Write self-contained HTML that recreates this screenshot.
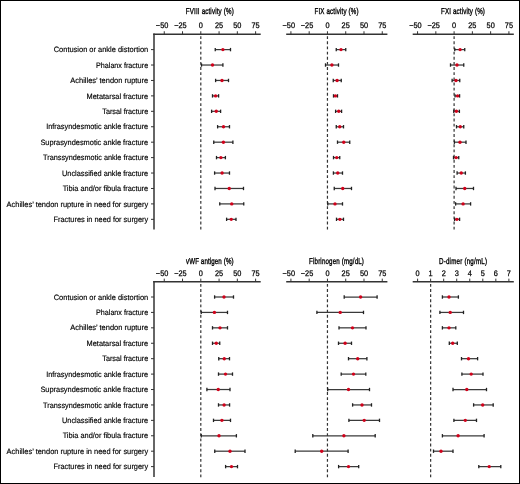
<!DOCTYPE html>
<html><head><meta charset="utf-8"><style>
html,body{margin:0;padding:0;background:#fff;}
body{width:520px;height:484px;overflow:hidden;}
svg{display:block;will-change:transform;}
text{font-family:"Liberation Sans",sans-serif;fill:#000;text-rendering:geometricPrecision;}
</style></head><body>
<svg width="520" height="484" viewBox="0 0 520 484">
<rect x="0.5" y="0.5" width="519" height="483" fill="#fff" stroke="#000" stroke-width="1"/>
<text x="148.20" y="52.25" font-size="7.75" text-anchor="end" stroke="#000" stroke-width="0.15" textLength="94.47" lengthAdjust="spacingAndGlyphs">Contusion or ankle distortion</text>
<line x1="151.00" y1="49.60" x2="154.00" y2="49.60" stroke="#333" stroke-width="1.0"/>
<text x="148.20" y="67.68" font-size="7.75" text-anchor="end" stroke="#000" stroke-width="0.15" textLength="52.15" lengthAdjust="spacingAndGlyphs">Phalanx fracture</text>
<line x1="151.00" y1="65.03" x2="154.00" y2="65.03" stroke="#333" stroke-width="1.0"/>
<text x="148.20" y="83.11" font-size="7.75" text-anchor="end" stroke="#000" stroke-width="0.15" textLength="77.88" lengthAdjust="spacingAndGlyphs">Achilles’ tendon rupture</text>
<line x1="151.00" y1="80.46" x2="154.00" y2="80.46" stroke="#333" stroke-width="1.0"/>
<text x="148.20" y="98.54" font-size="7.75" text-anchor="end" stroke="#000" stroke-width="0.15" textLength="61.61" lengthAdjust="spacingAndGlyphs">Metatarsal fracture</text>
<line x1="151.00" y1="95.89" x2="154.00" y2="95.89" stroke="#333" stroke-width="1.0"/>
<text x="148.20" y="113.97" font-size="7.75" text-anchor="end" stroke="#000" stroke-width="0.15" textLength="45.9" lengthAdjust="spacingAndGlyphs">Tarsal fracture</text>
<line x1="151.00" y1="111.32" x2="154.00" y2="111.32" stroke="#333" stroke-width="1.0"/>
<text x="148.20" y="129.40" font-size="7.75" text-anchor="end" stroke="#000" stroke-width="0.15" textLength="102.02" lengthAdjust="spacingAndGlyphs">Infrasyndesmotic ankle fracture</text>
<line x1="151.00" y1="126.75" x2="154.00" y2="126.75" stroke="#333" stroke-width="1.0"/>
<text x="148.20" y="144.83" font-size="7.75" text-anchor="end" stroke="#000" stroke-width="0.15" textLength="107.79" lengthAdjust="spacingAndGlyphs">Suprasyndesmotic ankle fracture</text>
<line x1="151.00" y1="142.18" x2="154.00" y2="142.18" stroke="#333" stroke-width="1.0"/>
<text x="148.20" y="160.26" font-size="7.75" text-anchor="end" stroke="#000" stroke-width="0.15" textLength="105.18" lengthAdjust="spacingAndGlyphs">Transsyndesmotic ankle fracture</text>
<line x1="151.00" y1="157.61" x2="154.00" y2="157.61" stroke="#333" stroke-width="1.0"/>
<text x="148.20" y="175.69" font-size="7.75" text-anchor="end" stroke="#000" stroke-width="0.15" textLength="86.17" lengthAdjust="spacingAndGlyphs">Unclassified ankle fracture</text>
<line x1="151.00" y1="173.04" x2="154.00" y2="173.04" stroke="#333" stroke-width="1.0"/>
<text x="148.20" y="191.12" font-size="7.75" text-anchor="end" stroke="#000" stroke-width="0.15" textLength="85.57" lengthAdjust="spacingAndGlyphs">Tibia and/or fibula fracture</text>
<line x1="151.00" y1="188.47" x2="154.00" y2="188.47" stroke="#333" stroke-width="1.0"/>
<text x="148.20" y="206.55" font-size="7.75" text-anchor="end" stroke="#000" stroke-width="0.15" textLength="141.62" lengthAdjust="spacingAndGlyphs">Achilles’ tendon rupture in need for surgery</text>
<line x1="151.00" y1="203.90" x2="154.00" y2="203.90" stroke="#333" stroke-width="1.0"/>
<text x="148.20" y="221.98" font-size="7.75" text-anchor="end" stroke="#000" stroke-width="0.15" textLength="94.65" lengthAdjust="spacingAndGlyphs">Fractures in need for surgery</text>
<line x1="151.00" y1="219.33" x2="154.00" y2="219.33" stroke="#333" stroke-width="1.0"/>
<line x1="154.00" y1="33.50" x2="154.00" y2="229.50" stroke="#333" stroke-width="1.5"/>
<line x1="153.25" y1="34.25" x2="260.70" y2="34.25" stroke="#333" stroke-width="1.5"/>
<line x1="164.26" y1="31.25" x2="164.26" y2="34.25" stroke="#333" stroke-width="1.0"/>
<text transform="translate(168.35,27.70) scale(0.92,1)" font-size="8.0" text-anchor="end" stroke="#000" stroke-width="0.25">−50</text>
<line x1="182.53" y1="31.25" x2="182.53" y2="34.25" stroke="#333" stroke-width="1.0"/>
<text transform="translate(186.62,27.70) scale(0.92,1)" font-size="8.0" text-anchor="end" stroke="#000" stroke-width="0.25">−25</text>
<line x1="200.80" y1="31.25" x2="200.80" y2="34.25" stroke="#333" stroke-width="1.0"/>
<text transform="translate(200.80,27.70) scale(0.92,1)" font-size="8.0" text-anchor="middle" stroke="#000" stroke-width="0.25">0</text>
<line x1="219.07" y1="31.25" x2="219.07" y2="34.25" stroke="#333" stroke-width="1.0"/>
<text transform="translate(219.07,27.70) scale(0.92,1)" font-size="8.0" text-anchor="middle" stroke="#000" stroke-width="0.25">25</text>
<line x1="237.34" y1="31.25" x2="237.34" y2="34.25" stroke="#333" stroke-width="1.0"/>
<text transform="translate(237.34,27.70) scale(0.92,1)" font-size="8.0" text-anchor="middle" stroke="#000" stroke-width="0.25">50</text>
<line x1="255.61" y1="31.25" x2="255.61" y2="34.25" stroke="#333" stroke-width="1.0"/>
<text transform="translate(255.61,27.70) scale(0.92,1)" font-size="8.0" text-anchor="middle" stroke="#000" stroke-width="0.25">75</text>
<line x1="200.80" y1="36.20" x2="200.80" y2="229.70" stroke="#333" stroke-width="1.2" stroke-dasharray="2.85 2.3"/>
<text transform="translate(209.80,13.95) scale(0.72,1)" font-size="8.6" text-anchor="middle" textLength="66.53" lengthAdjust="spacing" stroke="#000" stroke-width="0.35">FVIII activity (%)</text>
<line x1="215.25" y1="49.60" x2="230.50" y2="49.60" stroke="#3a3a3a" stroke-width="1.25"/>
<line x1="215.25" y1="47.90" x2="215.25" y2="51.30" stroke="#222" stroke-width="1.3"/>
<line x1="230.50" y1="47.90" x2="230.50" y2="51.30" stroke="#222" stroke-width="1.3"/>
<circle cx="222.90" cy="49.60" r="1.7" fill="#d0021b"/>
<line x1="201.50" y1="65.03" x2="222.90" y2="65.03" stroke="#3a3a3a" stroke-width="1.25"/>
<line x1="201.50" y1="63.33" x2="201.50" y2="66.73" stroke="#222" stroke-width="1.3"/>
<line x1="222.90" y1="63.33" x2="222.90" y2="66.73" stroke="#222" stroke-width="1.3"/>
<circle cx="212.50" cy="65.03" r="1.7" fill="#d0021b"/>
<line x1="215.60" y1="80.46" x2="228.50" y2="80.46" stroke="#3a3a3a" stroke-width="1.25"/>
<line x1="215.60" y1="78.76" x2="215.60" y2="82.16" stroke="#222" stroke-width="1.3"/>
<line x1="228.50" y1="78.76" x2="228.50" y2="82.16" stroke="#222" stroke-width="1.3"/>
<circle cx="222.00" cy="80.46" r="1.7" fill="#d0021b"/>
<line x1="212.50" y1="95.89" x2="218.60" y2="95.89" stroke="#3a3a3a" stroke-width="1.25"/>
<line x1="212.50" y1="94.19" x2="212.50" y2="97.59" stroke="#222" stroke-width="1.3"/>
<line x1="218.60" y1="94.19" x2="218.60" y2="97.59" stroke="#222" stroke-width="1.3"/>
<circle cx="215.60" cy="95.89" r="1.7" fill="#d0021b"/>
<line x1="211.60" y1="111.32" x2="220.60" y2="111.32" stroke="#3a3a3a" stroke-width="1.25"/>
<line x1="211.60" y1="109.62" x2="211.60" y2="113.02" stroke="#222" stroke-width="1.3"/>
<line x1="220.60" y1="109.62" x2="220.60" y2="113.02" stroke="#222" stroke-width="1.3"/>
<circle cx="216.25" cy="111.32" r="1.7" fill="#d0021b"/>
<line x1="217.60" y1="126.75" x2="229.50" y2="126.75" stroke="#3a3a3a" stroke-width="1.25"/>
<line x1="217.60" y1="125.05" x2="217.60" y2="128.45" stroke="#222" stroke-width="1.3"/>
<line x1="229.50" y1="125.05" x2="229.50" y2="128.45" stroke="#222" stroke-width="1.3"/>
<circle cx="223.50" cy="126.75" r="1.7" fill="#d0021b"/>
<line x1="213.75" y1="142.18" x2="232.90" y2="142.18" stroke="#3a3a3a" stroke-width="1.25"/>
<line x1="213.75" y1="140.48" x2="213.75" y2="143.88" stroke="#222" stroke-width="1.3"/>
<line x1="232.90" y1="140.48" x2="232.90" y2="143.88" stroke="#222" stroke-width="1.3"/>
<circle cx="223.40" cy="142.18" r="1.7" fill="#d0021b"/>
<line x1="216.50" y1="157.61" x2="225.40" y2="157.61" stroke="#3a3a3a" stroke-width="1.25"/>
<line x1="216.50" y1="155.91" x2="216.50" y2="159.31" stroke="#222" stroke-width="1.3"/>
<line x1="225.40" y1="155.91" x2="225.40" y2="159.31" stroke="#222" stroke-width="1.3"/>
<circle cx="220.90" cy="157.61" r="1.7" fill="#d0021b"/>
<line x1="214.60" y1="173.04" x2="229.50" y2="173.04" stroke="#3a3a3a" stroke-width="1.25"/>
<line x1="214.60" y1="171.34" x2="214.60" y2="174.74" stroke="#222" stroke-width="1.3"/>
<line x1="229.50" y1="171.34" x2="229.50" y2="174.74" stroke="#222" stroke-width="1.3"/>
<circle cx="222.10" cy="173.04" r="1.7" fill="#d0021b"/>
<line x1="215.00" y1="188.47" x2="243.50" y2="188.47" stroke="#3a3a3a" stroke-width="1.25"/>
<line x1="215.00" y1="186.77" x2="215.00" y2="190.17" stroke="#222" stroke-width="1.3"/>
<line x1="243.50" y1="186.77" x2="243.50" y2="190.17" stroke="#222" stroke-width="1.3"/>
<circle cx="229.25" cy="188.47" r="1.7" fill="#d0021b"/>
<line x1="219.75" y1="203.90" x2="243.75" y2="203.90" stroke="#3a3a3a" stroke-width="1.25"/>
<line x1="219.75" y1="202.20" x2="219.75" y2="205.60" stroke="#222" stroke-width="1.3"/>
<line x1="243.75" y1="202.20" x2="243.75" y2="205.60" stroke="#222" stroke-width="1.3"/>
<circle cx="231.75" cy="203.90" r="1.7" fill="#d0021b"/>
<line x1="226.60" y1="219.33" x2="236.00" y2="219.33" stroke="#3a3a3a" stroke-width="1.25"/>
<line x1="226.60" y1="217.63" x2="226.60" y2="221.03" stroke="#222" stroke-width="1.3"/>
<line x1="236.00" y1="217.63" x2="236.00" y2="221.03" stroke="#222" stroke-width="1.3"/>
<circle cx="231.25" cy="219.33" r="1.7" fill="#d0021b"/>
<line x1="286.20" y1="34.25" x2="387.40" y2="34.25" stroke="#333" stroke-width="1.5"/>
<line x1="290.91" y1="31.25" x2="290.91" y2="34.25" stroke="#333" stroke-width="1.0"/>
<text transform="translate(295.00,27.70) scale(0.92,1)" font-size="8.0" text-anchor="end" stroke="#000" stroke-width="0.25">−50</text>
<line x1="309.18" y1="31.25" x2="309.18" y2="34.25" stroke="#333" stroke-width="1.0"/>
<text transform="translate(313.27,27.70) scale(0.92,1)" font-size="8.0" text-anchor="end" stroke="#000" stroke-width="0.25">−25</text>
<line x1="327.45" y1="31.25" x2="327.45" y2="34.25" stroke="#333" stroke-width="1.0"/>
<text transform="translate(327.45,27.70) scale(0.92,1)" font-size="8.0" text-anchor="middle" stroke="#000" stroke-width="0.25">0</text>
<line x1="345.72" y1="31.25" x2="345.72" y2="34.25" stroke="#333" stroke-width="1.0"/>
<text transform="translate(345.72,27.70) scale(0.92,1)" font-size="8.0" text-anchor="middle" stroke="#000" stroke-width="0.25">25</text>
<line x1="363.99" y1="31.25" x2="363.99" y2="34.25" stroke="#333" stroke-width="1.0"/>
<text transform="translate(363.99,27.70) scale(0.92,1)" font-size="8.0" text-anchor="middle" stroke="#000" stroke-width="0.25">50</text>
<line x1="382.26" y1="31.25" x2="382.26" y2="34.25" stroke="#333" stroke-width="1.0"/>
<text transform="translate(382.26,27.70) scale(0.92,1)" font-size="8.0" text-anchor="middle" stroke="#000" stroke-width="0.25">75</text>
<line x1="327.45" y1="36.20" x2="327.45" y2="229.70" stroke="#333" stroke-width="1.2" stroke-dasharray="2.85 2.3"/>
<text transform="translate(336.50,13.95) scale(0.72,1)" font-size="8.6" text-anchor="middle" textLength="61.25" lengthAdjust="spacing" stroke="#000" stroke-width="0.35">FIX activity (%)</text>
<line x1="336.25" y1="49.60" x2="345.75" y2="49.60" stroke="#3a3a3a" stroke-width="1.25"/>
<line x1="336.25" y1="47.90" x2="336.25" y2="51.30" stroke="#222" stroke-width="1.3"/>
<line x1="345.75" y1="47.90" x2="345.75" y2="51.30" stroke="#222" stroke-width="1.3"/>
<circle cx="341.00" cy="49.60" r="1.7" fill="#d0021b"/>
<line x1="325.50" y1="65.03" x2="338.50" y2="65.03" stroke="#3a3a3a" stroke-width="1.25"/>
<line x1="325.50" y1="63.33" x2="325.50" y2="66.73" stroke="#222" stroke-width="1.3"/>
<line x1="338.50" y1="63.33" x2="338.50" y2="66.73" stroke="#222" stroke-width="1.3"/>
<circle cx="331.90" cy="65.03" r="1.7" fill="#d0021b"/>
<line x1="333.25" y1="80.46" x2="341.25" y2="80.46" stroke="#3a3a3a" stroke-width="1.25"/>
<line x1="333.25" y1="78.76" x2="333.25" y2="82.16" stroke="#222" stroke-width="1.3"/>
<line x1="341.25" y1="78.76" x2="341.25" y2="82.16" stroke="#222" stroke-width="1.3"/>
<circle cx="337.10" cy="80.46" r="1.7" fill="#d0021b"/>
<line x1="333.50" y1="95.89" x2="337.50" y2="95.89" stroke="#3a3a3a" stroke-width="1.25"/>
<line x1="333.50" y1="94.19" x2="333.50" y2="97.59" stroke="#222" stroke-width="1.3"/>
<line x1="337.50" y1="94.19" x2="337.50" y2="97.59" stroke="#222" stroke-width="1.3"/>
<circle cx="335.40" cy="95.89" r="1.7" fill="#d0021b"/>
<line x1="335.60" y1="111.32" x2="341.60" y2="111.32" stroke="#3a3a3a" stroke-width="1.25"/>
<line x1="335.60" y1="109.62" x2="335.60" y2="113.02" stroke="#222" stroke-width="1.3"/>
<line x1="341.60" y1="109.62" x2="341.60" y2="113.02" stroke="#222" stroke-width="1.3"/>
<circle cx="338.75" cy="111.32" r="1.7" fill="#d0021b"/>
<line x1="336.25" y1="126.75" x2="343.50" y2="126.75" stroke="#3a3a3a" stroke-width="1.25"/>
<line x1="336.25" y1="125.05" x2="336.25" y2="128.45" stroke="#222" stroke-width="1.3"/>
<line x1="343.50" y1="125.05" x2="343.50" y2="128.45" stroke="#222" stroke-width="1.3"/>
<circle cx="339.75" cy="126.75" r="1.7" fill="#d0021b"/>
<line x1="337.50" y1="142.18" x2="349.75" y2="142.18" stroke="#3a3a3a" stroke-width="1.25"/>
<line x1="337.50" y1="140.48" x2="337.50" y2="143.88" stroke="#222" stroke-width="1.3"/>
<line x1="349.75" y1="140.48" x2="349.75" y2="143.88" stroke="#222" stroke-width="1.3"/>
<circle cx="343.75" cy="142.18" r="1.7" fill="#d0021b"/>
<line x1="333.50" y1="157.61" x2="339.75" y2="157.61" stroke="#3a3a3a" stroke-width="1.25"/>
<line x1="333.50" y1="155.91" x2="333.50" y2="159.31" stroke="#222" stroke-width="1.3"/>
<line x1="339.75" y1="155.91" x2="339.75" y2="159.31" stroke="#222" stroke-width="1.3"/>
<circle cx="336.75" cy="157.61" r="1.7" fill="#d0021b"/>
<line x1="333.40" y1="173.04" x2="342.50" y2="173.04" stroke="#3a3a3a" stroke-width="1.25"/>
<line x1="333.40" y1="171.34" x2="333.40" y2="174.74" stroke="#222" stroke-width="1.3"/>
<line x1="342.50" y1="171.34" x2="342.50" y2="174.74" stroke="#222" stroke-width="1.3"/>
<circle cx="337.75" cy="173.04" r="1.7" fill="#d0021b"/>
<line x1="334.25" y1="188.47" x2="351.50" y2="188.47" stroke="#3a3a3a" stroke-width="1.25"/>
<line x1="334.25" y1="186.77" x2="334.25" y2="190.17" stroke="#222" stroke-width="1.3"/>
<line x1="351.50" y1="186.77" x2="351.50" y2="190.17" stroke="#222" stroke-width="1.3"/>
<circle cx="342.75" cy="188.47" r="1.7" fill="#d0021b"/>
<line x1="327.75" y1="203.90" x2="342.50" y2="203.90" stroke="#3a3a3a" stroke-width="1.25"/>
<line x1="327.75" y1="202.20" x2="327.75" y2="205.60" stroke="#222" stroke-width="1.3"/>
<line x1="342.50" y1="202.20" x2="342.50" y2="205.60" stroke="#222" stroke-width="1.3"/>
<circle cx="335.00" cy="203.90" r="1.7" fill="#d0021b"/>
<line x1="336.50" y1="219.33" x2="343.50" y2="219.33" stroke="#3a3a3a" stroke-width="1.25"/>
<line x1="336.50" y1="217.63" x2="336.50" y2="221.03" stroke="#222" stroke-width="1.3"/>
<line x1="343.50" y1="217.63" x2="343.50" y2="221.03" stroke="#222" stroke-width="1.3"/>
<circle cx="339.90" cy="219.33" r="1.7" fill="#d0021b"/>
<line x1="412.70" y1="34.25" x2="513.80" y2="34.25" stroke="#333" stroke-width="1.5"/>
<line x1="417.56" y1="31.25" x2="417.56" y2="34.25" stroke="#333" stroke-width="1.0"/>
<text transform="translate(421.65,27.70) scale(0.92,1)" font-size="8.0" text-anchor="end" stroke="#000" stroke-width="0.25">−50</text>
<line x1="435.83" y1="31.25" x2="435.83" y2="34.25" stroke="#333" stroke-width="1.0"/>
<text transform="translate(439.92,27.70) scale(0.92,1)" font-size="8.0" text-anchor="end" stroke="#000" stroke-width="0.25">−25</text>
<line x1="454.10" y1="31.25" x2="454.10" y2="34.25" stroke="#333" stroke-width="1.0"/>
<text transform="translate(454.10,27.70) scale(0.92,1)" font-size="8.0" text-anchor="middle" stroke="#000" stroke-width="0.25">0</text>
<line x1="472.37" y1="31.25" x2="472.37" y2="34.25" stroke="#333" stroke-width="1.0"/>
<text transform="translate(472.37,27.70) scale(0.92,1)" font-size="8.0" text-anchor="middle" stroke="#000" stroke-width="0.25">25</text>
<line x1="490.64" y1="31.25" x2="490.64" y2="34.25" stroke="#333" stroke-width="1.0"/>
<text transform="translate(490.64,27.70) scale(0.92,1)" font-size="8.0" text-anchor="middle" stroke="#000" stroke-width="0.25">50</text>
<line x1="508.91" y1="31.25" x2="508.91" y2="34.25" stroke="#333" stroke-width="1.0"/>
<text transform="translate(508.91,27.70) scale(0.92,1)" font-size="8.0" text-anchor="middle" stroke="#000" stroke-width="0.25">75</text>
<line x1="454.10" y1="36.20" x2="454.10" y2="229.70" stroke="#333" stroke-width="1.2" stroke-dasharray="2.85 2.3"/>
<text transform="translate(463.00,13.95) scale(0.72,1)" font-size="8.6" text-anchor="middle" textLength="60.83" lengthAdjust="spacing" stroke="#000" stroke-width="0.35">FXI activity (%)</text>
<line x1="454.75" y1="49.60" x2="464.75" y2="49.60" stroke="#3a3a3a" stroke-width="1.25"/>
<line x1="454.75" y1="47.90" x2="454.75" y2="51.30" stroke="#222" stroke-width="1.3"/>
<line x1="464.75" y1="47.90" x2="464.75" y2="51.30" stroke="#222" stroke-width="1.3"/>
<circle cx="460.10" cy="49.60" r="1.7" fill="#d0021b"/>
<line x1="450.50" y1="65.03" x2="463.75" y2="65.03" stroke="#3a3a3a" stroke-width="1.25"/>
<line x1="450.50" y1="63.33" x2="450.50" y2="66.73" stroke="#222" stroke-width="1.3"/>
<line x1="463.75" y1="63.33" x2="463.75" y2="66.73" stroke="#222" stroke-width="1.3"/>
<circle cx="457.00" cy="65.03" r="1.7" fill="#d0021b"/>
<line x1="452.10" y1="80.46" x2="459.75" y2="80.46" stroke="#3a3a3a" stroke-width="1.25"/>
<line x1="452.10" y1="78.76" x2="452.10" y2="82.16" stroke="#222" stroke-width="1.3"/>
<line x1="459.75" y1="78.76" x2="459.75" y2="82.16" stroke="#222" stroke-width="1.3"/>
<circle cx="456.00" cy="80.46" r="1.7" fill="#d0021b"/>
<line x1="455.00" y1="95.89" x2="459.60" y2="95.89" stroke="#3a3a3a" stroke-width="1.25"/>
<line x1="455.00" y1="94.19" x2="455.00" y2="97.59" stroke="#222" stroke-width="1.3"/>
<line x1="459.60" y1="94.19" x2="459.60" y2="97.59" stroke="#222" stroke-width="1.3"/>
<circle cx="457.60" cy="95.89" r="1.7" fill="#d0021b"/>
<line x1="453.75" y1="111.32" x2="459.40" y2="111.32" stroke="#3a3a3a" stroke-width="1.25"/>
<line x1="453.75" y1="109.62" x2="453.75" y2="113.02" stroke="#222" stroke-width="1.3"/>
<line x1="459.40" y1="109.62" x2="459.40" y2="113.02" stroke="#222" stroke-width="1.3"/>
<circle cx="456.40" cy="111.32" r="1.7" fill="#d0021b"/>
<line x1="456.50" y1="126.75" x2="463.75" y2="126.75" stroke="#3a3a3a" stroke-width="1.25"/>
<line x1="456.50" y1="125.05" x2="456.50" y2="128.45" stroke="#222" stroke-width="1.3"/>
<line x1="463.75" y1="125.05" x2="463.75" y2="128.45" stroke="#222" stroke-width="1.3"/>
<circle cx="460.25" cy="126.75" r="1.7" fill="#d0021b"/>
<line x1="454.40" y1="142.18" x2="466.00" y2="142.18" stroke="#3a3a3a" stroke-width="1.25"/>
<line x1="454.40" y1="140.48" x2="454.40" y2="143.88" stroke="#222" stroke-width="1.3"/>
<line x1="466.00" y1="140.48" x2="466.00" y2="143.88" stroke="#222" stroke-width="1.3"/>
<circle cx="460.00" cy="142.18" r="1.7" fill="#d0021b"/>
<line x1="453.50" y1="157.61" x2="458.75" y2="157.61" stroke="#3a3a3a" stroke-width="1.25"/>
<line x1="453.50" y1="155.91" x2="453.50" y2="159.31" stroke="#222" stroke-width="1.3"/>
<line x1="458.75" y1="155.91" x2="458.75" y2="159.31" stroke="#222" stroke-width="1.3"/>
<circle cx="456.10" cy="157.61" r="1.7" fill="#d0021b"/>
<line x1="457.10" y1="173.04" x2="465.40" y2="173.04" stroke="#3a3a3a" stroke-width="1.25"/>
<line x1="457.10" y1="171.34" x2="457.10" y2="174.74" stroke="#222" stroke-width="1.3"/>
<line x1="465.40" y1="171.34" x2="465.40" y2="174.74" stroke="#222" stroke-width="1.3"/>
<circle cx="461.25" cy="173.04" r="1.7" fill="#d0021b"/>
<line x1="456.00" y1="188.47" x2="473.50" y2="188.47" stroke="#3a3a3a" stroke-width="1.25"/>
<line x1="456.00" y1="186.77" x2="456.00" y2="190.17" stroke="#222" stroke-width="1.3"/>
<line x1="473.50" y1="186.77" x2="473.50" y2="190.17" stroke="#222" stroke-width="1.3"/>
<circle cx="464.75" cy="188.47" r="1.7" fill="#d0021b"/>
<line x1="455.60" y1="203.90" x2="470.60" y2="203.90" stroke="#3a3a3a" stroke-width="1.25"/>
<line x1="455.60" y1="202.20" x2="455.60" y2="205.60" stroke="#222" stroke-width="1.3"/>
<line x1="470.60" y1="202.20" x2="470.60" y2="205.60" stroke="#222" stroke-width="1.3"/>
<circle cx="463.10" cy="203.90" r="1.7" fill="#d0021b"/>
<line x1="454.60" y1="219.33" x2="459.60" y2="219.33" stroke="#3a3a3a" stroke-width="1.25"/>
<line x1="454.60" y1="217.63" x2="454.60" y2="221.03" stroke="#222" stroke-width="1.3"/>
<line x1="459.60" y1="217.63" x2="459.60" y2="221.03" stroke="#222" stroke-width="1.3"/>
<circle cx="456.90" cy="219.33" r="1.7" fill="#d0021b"/>
<text x="148.20" y="299.65" font-size="7.75" text-anchor="end" stroke="#000" stroke-width="0.15" textLength="94.47" lengthAdjust="spacingAndGlyphs">Contusion or ankle distortion</text>
<line x1="151.00" y1="297.00" x2="154.00" y2="297.00" stroke="#333" stroke-width="1.0"/>
<text x="148.20" y="315.07" font-size="7.75" text-anchor="end" stroke="#000" stroke-width="0.15" textLength="52.15" lengthAdjust="spacingAndGlyphs">Phalanx fracture</text>
<line x1="151.00" y1="312.42" x2="154.00" y2="312.42" stroke="#333" stroke-width="1.0"/>
<text x="148.20" y="330.49" font-size="7.75" text-anchor="end" stroke="#000" stroke-width="0.15" textLength="77.88" lengthAdjust="spacingAndGlyphs">Achilles’ tendon rupture</text>
<line x1="151.00" y1="327.84" x2="154.00" y2="327.84" stroke="#333" stroke-width="1.0"/>
<text x="148.20" y="345.91" font-size="7.75" text-anchor="end" stroke="#000" stroke-width="0.15" textLength="61.61" lengthAdjust="spacingAndGlyphs">Metatarsal fracture</text>
<line x1="151.00" y1="343.26" x2="154.00" y2="343.26" stroke="#333" stroke-width="1.0"/>
<text x="148.20" y="361.33" font-size="7.75" text-anchor="end" stroke="#000" stroke-width="0.15" textLength="45.9" lengthAdjust="spacingAndGlyphs">Tarsal fracture</text>
<line x1="151.00" y1="358.68" x2="154.00" y2="358.68" stroke="#333" stroke-width="1.0"/>
<text x="148.20" y="376.75" font-size="7.75" text-anchor="end" stroke="#000" stroke-width="0.15" textLength="102.02" lengthAdjust="spacingAndGlyphs">Infrasyndesmotic ankle fracture</text>
<line x1="151.00" y1="374.10" x2="154.00" y2="374.10" stroke="#333" stroke-width="1.0"/>
<text x="148.20" y="392.17" font-size="7.75" text-anchor="end" stroke="#000" stroke-width="0.15" textLength="107.79" lengthAdjust="spacingAndGlyphs">Suprasyndesmotic ankle fracture</text>
<line x1="151.00" y1="389.52" x2="154.00" y2="389.52" stroke="#333" stroke-width="1.0"/>
<text x="148.20" y="407.59" font-size="7.75" text-anchor="end" stroke="#000" stroke-width="0.15" textLength="105.18" lengthAdjust="spacingAndGlyphs">Transsyndesmotic ankle fracture</text>
<line x1="151.00" y1="404.94" x2="154.00" y2="404.94" stroke="#333" stroke-width="1.0"/>
<text x="148.20" y="423.01" font-size="7.75" text-anchor="end" stroke="#000" stroke-width="0.15" textLength="86.17" lengthAdjust="spacingAndGlyphs">Unclassified ankle fracture</text>
<line x1="151.00" y1="420.36" x2="154.00" y2="420.36" stroke="#333" stroke-width="1.0"/>
<text x="148.20" y="438.43" font-size="7.75" text-anchor="end" stroke="#000" stroke-width="0.15" textLength="85.57" lengthAdjust="spacingAndGlyphs">Tibia and/or fibula fracture</text>
<line x1="151.00" y1="435.78" x2="154.00" y2="435.78" stroke="#333" stroke-width="1.0"/>
<text x="148.20" y="453.85" font-size="7.75" text-anchor="end" stroke="#000" stroke-width="0.15" textLength="141.62" lengthAdjust="spacingAndGlyphs">Achilles’ tendon rupture in need for surgery</text>
<line x1="151.00" y1="451.20" x2="154.00" y2="451.20" stroke="#333" stroke-width="1.0"/>
<text x="148.20" y="469.27" font-size="7.75" text-anchor="end" stroke="#000" stroke-width="0.15" textLength="94.65" lengthAdjust="spacingAndGlyphs">Fractures in need for surgery</text>
<line x1="151.00" y1="466.62" x2="154.00" y2="466.62" stroke="#333" stroke-width="1.0"/>
<line x1="154.00" y1="280.90" x2="154.00" y2="477.00" stroke="#333" stroke-width="1.5"/>
<line x1="153.25" y1="281.65" x2="260.70" y2="281.65" stroke="#333" stroke-width="1.5"/>
<line x1="164.26" y1="278.65" x2="164.26" y2="281.65" stroke="#333" stroke-width="1.0"/>
<text transform="translate(168.35,275.50) scale(0.92,1)" font-size="8.0" text-anchor="end" stroke="#000" stroke-width="0.25">−50</text>
<line x1="182.53" y1="278.65" x2="182.53" y2="281.65" stroke="#333" stroke-width="1.0"/>
<text transform="translate(186.62,275.50) scale(0.92,1)" font-size="8.0" text-anchor="end" stroke="#000" stroke-width="0.25">−25</text>
<line x1="200.80" y1="278.65" x2="200.80" y2="281.65" stroke="#333" stroke-width="1.0"/>
<text transform="translate(200.80,275.50) scale(0.92,1)" font-size="8.0" text-anchor="middle" stroke="#000" stroke-width="0.25">0</text>
<line x1="219.07" y1="278.65" x2="219.07" y2="281.65" stroke="#333" stroke-width="1.0"/>
<text transform="translate(219.07,275.50) scale(0.92,1)" font-size="8.0" text-anchor="middle" stroke="#000" stroke-width="0.25">25</text>
<line x1="237.34" y1="278.65" x2="237.34" y2="281.65" stroke="#333" stroke-width="1.0"/>
<text transform="translate(237.34,275.50) scale(0.92,1)" font-size="8.0" text-anchor="middle" stroke="#000" stroke-width="0.25">50</text>
<line x1="255.61" y1="278.65" x2="255.61" y2="281.65" stroke="#333" stroke-width="1.0"/>
<text transform="translate(255.61,275.50) scale(0.92,1)" font-size="8.0" text-anchor="middle" stroke="#000" stroke-width="0.25">75</text>
<line x1="200.80" y1="283.90" x2="200.80" y2="477.20" stroke="#333" stroke-width="1.2" stroke-dasharray="2.85 2.3"/>
<text transform="translate(209.80,263.50) scale(0.72,1)" font-size="8.6" text-anchor="middle" textLength="66.11" lengthAdjust="spacing" stroke="#000" stroke-width="0.35">vWF antigen (%)</text>
<line x1="214.60" y1="297.00" x2="233.50" y2="297.00" stroke="#3a3a3a" stroke-width="1.25"/>
<line x1="214.60" y1="295.30" x2="214.60" y2="298.70" stroke="#222" stroke-width="1.3"/>
<line x1="233.50" y1="295.30" x2="233.50" y2="298.70" stroke="#222" stroke-width="1.3"/>
<circle cx="224.00" cy="297.00" r="1.7" fill="#d0021b"/>
<line x1="201.25" y1="312.42" x2="227.50" y2="312.42" stroke="#3a3a3a" stroke-width="1.25"/>
<line x1="201.25" y1="310.72" x2="201.25" y2="314.12" stroke="#222" stroke-width="1.3"/>
<line x1="227.50" y1="310.72" x2="227.50" y2="314.12" stroke="#222" stroke-width="1.3"/>
<circle cx="214.40" cy="312.42" r="1.7" fill="#d0021b"/>
<line x1="212.50" y1="327.84" x2="227.50" y2="327.84" stroke="#3a3a3a" stroke-width="1.25"/>
<line x1="212.50" y1="326.14" x2="212.50" y2="329.54" stroke="#222" stroke-width="1.3"/>
<line x1="227.50" y1="326.14" x2="227.50" y2="329.54" stroke="#222" stroke-width="1.3"/>
<circle cx="220.00" cy="327.84" r="1.7" fill="#d0021b"/>
<line x1="212.50" y1="343.26" x2="219.75" y2="343.26" stroke="#3a3a3a" stroke-width="1.25"/>
<line x1="212.50" y1="341.56" x2="212.50" y2="344.96" stroke="#222" stroke-width="1.3"/>
<line x1="219.75" y1="341.56" x2="219.75" y2="344.96" stroke="#222" stroke-width="1.3"/>
<circle cx="216.25" cy="343.26" r="1.7" fill="#d0021b"/>
<line x1="218.75" y1="358.68" x2="229.50" y2="358.68" stroke="#3a3a3a" stroke-width="1.25"/>
<line x1="218.75" y1="356.98" x2="218.75" y2="360.38" stroke="#222" stroke-width="1.3"/>
<line x1="229.50" y1="356.98" x2="229.50" y2="360.38" stroke="#222" stroke-width="1.3"/>
<circle cx="224.25" cy="358.68" r="1.7" fill="#d0021b"/>
<line x1="218.50" y1="374.10" x2="232.50" y2="374.10" stroke="#3a3a3a" stroke-width="1.25"/>
<line x1="218.50" y1="372.40" x2="218.50" y2="375.80" stroke="#222" stroke-width="1.3"/>
<line x1="232.50" y1="372.40" x2="232.50" y2="375.80" stroke="#222" stroke-width="1.3"/>
<circle cx="225.50" cy="374.10" r="1.7" fill="#d0021b"/>
<line x1="206.90" y1="389.52" x2="230.00" y2="389.52" stroke="#3a3a3a" stroke-width="1.25"/>
<line x1="206.90" y1="387.82" x2="206.90" y2="391.22" stroke="#222" stroke-width="1.3"/>
<line x1="230.00" y1="387.82" x2="230.00" y2="391.22" stroke="#222" stroke-width="1.3"/>
<circle cx="218.25" cy="389.52" r="1.7" fill="#d0021b"/>
<line x1="218.50" y1="404.94" x2="229.60" y2="404.94" stroke="#3a3a3a" stroke-width="1.25"/>
<line x1="218.50" y1="403.24" x2="218.50" y2="406.64" stroke="#222" stroke-width="1.3"/>
<line x1="229.60" y1="403.24" x2="229.60" y2="406.64" stroke="#222" stroke-width="1.3"/>
<circle cx="224.10" cy="404.94" r="1.7" fill="#d0021b"/>
<line x1="213.50" y1="420.36" x2="230.50" y2="420.36" stroke="#3a3a3a" stroke-width="1.25"/>
<line x1="213.50" y1="418.66" x2="213.50" y2="422.06" stroke="#222" stroke-width="1.3"/>
<line x1="230.50" y1="418.66" x2="230.50" y2="422.06" stroke="#222" stroke-width="1.3"/>
<circle cx="221.90" cy="420.36" r="1.7" fill="#d0021b"/>
<line x1="201.25" y1="435.78" x2="236.40" y2="435.78" stroke="#3a3a3a" stroke-width="1.25"/>
<line x1="201.25" y1="434.08" x2="201.25" y2="437.48" stroke="#222" stroke-width="1.3"/>
<line x1="236.40" y1="434.08" x2="236.40" y2="437.48" stroke="#222" stroke-width="1.3"/>
<circle cx="219.00" cy="435.78" r="1.7" fill="#d0021b"/>
<line x1="214.75" y1="451.20" x2="245.00" y2="451.20" stroke="#3a3a3a" stroke-width="1.25"/>
<line x1="214.75" y1="449.50" x2="214.75" y2="452.90" stroke="#222" stroke-width="1.3"/>
<line x1="245.00" y1="449.50" x2="245.00" y2="452.90" stroke="#222" stroke-width="1.3"/>
<circle cx="230.00" cy="451.20" r="1.7" fill="#d0021b"/>
<line x1="225.60" y1="466.62" x2="237.50" y2="466.62" stroke="#3a3a3a" stroke-width="1.25"/>
<line x1="225.60" y1="464.92" x2="225.60" y2="468.32" stroke="#222" stroke-width="1.3"/>
<line x1="237.50" y1="464.92" x2="237.50" y2="468.32" stroke="#222" stroke-width="1.3"/>
<circle cx="231.50" cy="466.62" r="1.7" fill="#d0021b"/>
<line x1="286.20" y1="281.65" x2="387.40" y2="281.65" stroke="#333" stroke-width="1.5"/>
<line x1="290.91" y1="278.65" x2="290.91" y2="281.65" stroke="#333" stroke-width="1.0"/>
<text transform="translate(295.00,275.50) scale(0.92,1)" font-size="8.0" text-anchor="end" stroke="#000" stroke-width="0.25">−50</text>
<line x1="309.18" y1="278.65" x2="309.18" y2="281.65" stroke="#333" stroke-width="1.0"/>
<text transform="translate(313.27,275.50) scale(0.92,1)" font-size="8.0" text-anchor="end" stroke="#000" stroke-width="0.25">−25</text>
<line x1="327.45" y1="278.65" x2="327.45" y2="281.65" stroke="#333" stroke-width="1.0"/>
<text transform="translate(327.45,275.50) scale(0.92,1)" font-size="8.0" text-anchor="middle" stroke="#000" stroke-width="0.25">0</text>
<line x1="345.72" y1="278.65" x2="345.72" y2="281.65" stroke="#333" stroke-width="1.0"/>
<text transform="translate(345.72,275.50) scale(0.92,1)" font-size="8.0" text-anchor="middle" stroke="#000" stroke-width="0.25">25</text>
<line x1="363.99" y1="278.65" x2="363.99" y2="281.65" stroke="#333" stroke-width="1.0"/>
<text transform="translate(363.99,275.50) scale(0.92,1)" font-size="8.0" text-anchor="middle" stroke="#000" stroke-width="0.25">50</text>
<line x1="382.26" y1="278.65" x2="382.26" y2="281.65" stroke="#333" stroke-width="1.0"/>
<text transform="translate(382.26,275.50) scale(0.92,1)" font-size="8.0" text-anchor="middle" stroke="#000" stroke-width="0.25">75</text>
<line x1="327.45" y1="283.90" x2="327.45" y2="477.20" stroke="#333" stroke-width="1.2" stroke-dasharray="2.85 2.3"/>
<text transform="translate(336.50,263.50) scale(0.72,1)" font-size="8.6" text-anchor="middle" textLength="76.11" lengthAdjust="spacing" stroke="#000" stroke-width="0.35">Fibrinogen (mg/dL)</text>
<line x1="344.20" y1="297.00" x2="377.10" y2="297.00" stroke="#3a3a3a" stroke-width="1.25"/>
<line x1="344.20" y1="295.30" x2="344.20" y2="298.70" stroke="#222" stroke-width="1.3"/>
<line x1="377.10" y1="295.30" x2="377.10" y2="298.70" stroke="#222" stroke-width="1.3"/>
<circle cx="360.60" cy="297.00" r="1.7" fill="#d0021b"/>
<line x1="316.90" y1="312.42" x2="363.50" y2="312.42" stroke="#3a3a3a" stroke-width="1.25"/>
<line x1="316.90" y1="310.72" x2="316.90" y2="314.12" stroke="#222" stroke-width="1.3"/>
<line x1="363.50" y1="310.72" x2="363.50" y2="314.12" stroke="#222" stroke-width="1.3"/>
<circle cx="340.20" cy="312.42" r="1.7" fill="#d0021b"/>
<line x1="339.00" y1="327.84" x2="366.00" y2="327.84" stroke="#3a3a3a" stroke-width="1.25"/>
<line x1="339.00" y1="326.14" x2="339.00" y2="329.54" stroke="#222" stroke-width="1.3"/>
<line x1="366.00" y1="326.14" x2="366.00" y2="329.54" stroke="#222" stroke-width="1.3"/>
<circle cx="352.50" cy="327.84" r="1.7" fill="#d0021b"/>
<line x1="338.50" y1="343.26" x2="351.50" y2="343.26" stroke="#3a3a3a" stroke-width="1.25"/>
<line x1="338.50" y1="341.56" x2="338.50" y2="344.96" stroke="#222" stroke-width="1.3"/>
<line x1="351.50" y1="341.56" x2="351.50" y2="344.96" stroke="#222" stroke-width="1.3"/>
<circle cx="345.10" cy="343.26" r="1.7" fill="#d0021b"/>
<line x1="348.50" y1="358.68" x2="366.90" y2="358.68" stroke="#3a3a3a" stroke-width="1.25"/>
<line x1="348.50" y1="356.98" x2="348.50" y2="360.38" stroke="#222" stroke-width="1.3"/>
<line x1="366.90" y1="356.98" x2="366.90" y2="360.38" stroke="#222" stroke-width="1.3"/>
<circle cx="357.70" cy="358.68" r="1.7" fill="#d0021b"/>
<line x1="341.20" y1="374.10" x2="365.80" y2="374.10" stroke="#3a3a3a" stroke-width="1.25"/>
<line x1="341.20" y1="372.40" x2="341.20" y2="375.80" stroke="#222" stroke-width="1.3"/>
<line x1="365.80" y1="372.40" x2="365.80" y2="375.80" stroke="#222" stroke-width="1.3"/>
<circle cx="353.50" cy="374.10" r="1.7" fill="#d0021b"/>
<line x1="327.70" y1="389.52" x2="369.50" y2="389.52" stroke="#3a3a3a" stroke-width="1.25"/>
<line x1="327.70" y1="387.82" x2="327.70" y2="391.22" stroke="#222" stroke-width="1.3"/>
<line x1="369.50" y1="387.82" x2="369.50" y2="391.22" stroke="#222" stroke-width="1.3"/>
<circle cx="348.50" cy="389.52" r="1.7" fill="#d0021b"/>
<line x1="352.60" y1="404.94" x2="371.50" y2="404.94" stroke="#3a3a3a" stroke-width="1.25"/>
<line x1="352.60" y1="403.24" x2="352.60" y2="406.64" stroke="#222" stroke-width="1.3"/>
<line x1="371.50" y1="403.24" x2="371.50" y2="406.64" stroke="#222" stroke-width="1.3"/>
<circle cx="362.00" cy="404.94" r="1.7" fill="#d0021b"/>
<line x1="348.90" y1="420.36" x2="379.50" y2="420.36" stroke="#3a3a3a" stroke-width="1.25"/>
<line x1="348.90" y1="418.66" x2="348.90" y2="422.06" stroke="#222" stroke-width="1.3"/>
<line x1="379.50" y1="418.66" x2="379.50" y2="422.06" stroke="#222" stroke-width="1.3"/>
<circle cx="364.20" cy="420.36" r="1.7" fill="#d0021b"/>
<line x1="312.80" y1="435.78" x2="375.20" y2="435.78" stroke="#3a3a3a" stroke-width="1.25"/>
<line x1="312.80" y1="434.08" x2="312.80" y2="437.48" stroke="#222" stroke-width="1.3"/>
<line x1="375.20" y1="434.08" x2="375.20" y2="437.48" stroke="#222" stroke-width="1.3"/>
<circle cx="343.90" cy="435.78" r="1.7" fill="#d0021b"/>
<line x1="295.20" y1="451.20" x2="348.10" y2="451.20" stroke="#3a3a3a" stroke-width="1.25"/>
<line x1="295.20" y1="449.50" x2="295.20" y2="452.90" stroke="#222" stroke-width="1.3"/>
<line x1="348.10" y1="449.50" x2="348.10" y2="452.90" stroke="#222" stroke-width="1.3"/>
<circle cx="321.70" cy="451.20" r="1.7" fill="#d0021b"/>
<line x1="338.60" y1="466.62" x2="358.70" y2="466.62" stroke="#3a3a3a" stroke-width="1.25"/>
<line x1="338.60" y1="464.92" x2="338.60" y2="468.32" stroke="#222" stroke-width="1.3"/>
<line x1="358.70" y1="464.92" x2="358.70" y2="468.32" stroke="#222" stroke-width="1.3"/>
<circle cx="348.50" cy="466.62" r="1.7" fill="#d0021b"/>
<line x1="412.70" y1="281.65" x2="513.80" y2="281.65" stroke="#333" stroke-width="1.5"/>
<line x1="417.60" y1="278.65" x2="417.60" y2="281.65" stroke="#333" stroke-width="1.0"/>
<text transform="translate(417.60,275.50) scale(0.92,1)" font-size="8.0" text-anchor="middle" stroke="#000" stroke-width="0.25">0</text>
<line x1="430.64" y1="278.65" x2="430.64" y2="281.65" stroke="#333" stroke-width="1.0"/>
<text transform="translate(430.64,275.50) scale(0.92,1)" font-size="8.0" text-anchor="middle" stroke="#000" stroke-width="0.25">1</text>
<line x1="443.68" y1="278.65" x2="443.68" y2="281.65" stroke="#333" stroke-width="1.0"/>
<text transform="translate(443.68,275.50) scale(0.92,1)" font-size="8.0" text-anchor="middle" stroke="#000" stroke-width="0.25">2</text>
<line x1="456.72" y1="278.65" x2="456.72" y2="281.65" stroke="#333" stroke-width="1.0"/>
<text transform="translate(456.72,275.50) scale(0.92,1)" font-size="8.0" text-anchor="middle" stroke="#000" stroke-width="0.25">3</text>
<line x1="469.76" y1="278.65" x2="469.76" y2="281.65" stroke="#333" stroke-width="1.0"/>
<text transform="translate(469.76,275.50) scale(0.92,1)" font-size="8.0" text-anchor="middle" stroke="#000" stroke-width="0.25">4</text>
<line x1="482.80" y1="278.65" x2="482.80" y2="281.65" stroke="#333" stroke-width="1.0"/>
<text transform="translate(482.80,275.50) scale(0.92,1)" font-size="8.0" text-anchor="middle" stroke="#000" stroke-width="0.25">5</text>
<line x1="495.84" y1="278.65" x2="495.84" y2="281.65" stroke="#333" stroke-width="1.0"/>
<text transform="translate(495.84,275.50) scale(0.92,1)" font-size="8.0" text-anchor="middle" stroke="#000" stroke-width="0.25">6</text>
<line x1="508.88" y1="278.65" x2="508.88" y2="281.65" stroke="#333" stroke-width="1.0"/>
<text transform="translate(508.88,275.50) scale(0.92,1)" font-size="8.0" text-anchor="middle" stroke="#000" stroke-width="0.25">7</text>
<line x1="430.64" y1="283.90" x2="430.64" y2="477.20" stroke="#333" stroke-width="1.2" stroke-dasharray="2.85 2.3"/>
<text transform="translate(463.00,263.50) scale(0.72,1)" font-size="8.6" text-anchor="middle" textLength="66.81" lengthAdjust="spacing" stroke="#000" stroke-width="0.35">D-dimer (ng/mL)</text>
<line x1="442.40" y1="297.00" x2="458.40" y2="297.00" stroke="#3a3a3a" stroke-width="1.25"/>
<line x1="442.40" y1="295.30" x2="442.40" y2="298.70" stroke="#222" stroke-width="1.3"/>
<line x1="458.40" y1="295.30" x2="458.40" y2="298.70" stroke="#222" stroke-width="1.3"/>
<circle cx="449.00" cy="297.00" r="1.7" fill="#d0021b"/>
<line x1="439.90" y1="312.42" x2="463.50" y2="312.42" stroke="#3a3a3a" stroke-width="1.25"/>
<line x1="439.90" y1="310.72" x2="439.90" y2="314.12" stroke="#222" stroke-width="1.3"/>
<line x1="463.50" y1="310.72" x2="463.50" y2="314.12" stroke="#222" stroke-width="1.3"/>
<circle cx="450.20" cy="312.42" r="1.7" fill="#d0021b"/>
<line x1="442.40" y1="327.84" x2="455.80" y2="327.84" stroke="#3a3a3a" stroke-width="1.25"/>
<line x1="442.40" y1="326.14" x2="442.40" y2="329.54" stroke="#222" stroke-width="1.3"/>
<line x1="455.80" y1="326.14" x2="455.80" y2="329.54" stroke="#222" stroke-width="1.3"/>
<circle cx="449.00" cy="327.84" r="1.7" fill="#d0021b"/>
<line x1="449.30" y1="343.26" x2="457.30" y2="343.26" stroke="#3a3a3a" stroke-width="1.25"/>
<line x1="449.30" y1="341.56" x2="449.30" y2="344.96" stroke="#222" stroke-width="1.3"/>
<line x1="457.30" y1="341.56" x2="457.30" y2="344.96" stroke="#222" stroke-width="1.3"/>
<circle cx="452.70" cy="343.26" r="1.7" fill="#d0021b"/>
<line x1="461.50" y1="358.68" x2="477.60" y2="358.68" stroke="#3a3a3a" stroke-width="1.25"/>
<line x1="461.50" y1="356.98" x2="461.50" y2="360.38" stroke="#222" stroke-width="1.3"/>
<line x1="477.60" y1="356.98" x2="477.60" y2="360.38" stroke="#222" stroke-width="1.3"/>
<circle cx="468.50" cy="358.68" r="1.7" fill="#d0021b"/>
<line x1="461.90" y1="374.10" x2="483.00" y2="374.10" stroke="#3a3a3a" stroke-width="1.25"/>
<line x1="461.90" y1="372.40" x2="461.90" y2="375.80" stroke="#222" stroke-width="1.3"/>
<line x1="483.00" y1="372.40" x2="483.00" y2="375.80" stroke="#222" stroke-width="1.3"/>
<circle cx="471.20" cy="374.10" r="1.7" fill="#d0021b"/>
<line x1="453.00" y1="389.52" x2="486.50" y2="389.52" stroke="#3a3a3a" stroke-width="1.25"/>
<line x1="453.00" y1="387.82" x2="453.00" y2="391.22" stroke="#222" stroke-width="1.3"/>
<line x1="486.50" y1="387.82" x2="486.50" y2="391.22" stroke="#222" stroke-width="1.3"/>
<circle cx="466.80" cy="389.52" r="1.7" fill="#d0021b"/>
<line x1="473.60" y1="404.94" x2="493.20" y2="404.94" stroke="#3a3a3a" stroke-width="1.25"/>
<line x1="473.60" y1="403.24" x2="473.60" y2="406.64" stroke="#222" stroke-width="1.3"/>
<line x1="493.20" y1="403.24" x2="493.20" y2="406.64" stroke="#222" stroke-width="1.3"/>
<circle cx="482.70" cy="404.94" r="1.7" fill="#d0021b"/>
<line x1="453.90" y1="420.36" x2="476.50" y2="420.36" stroke="#3a3a3a" stroke-width="1.25"/>
<line x1="453.90" y1="418.66" x2="453.90" y2="422.06" stroke="#222" stroke-width="1.3"/>
<line x1="476.50" y1="418.66" x2="476.50" y2="422.06" stroke="#222" stroke-width="1.3"/>
<circle cx="465.30" cy="420.36" r="1.7" fill="#d0021b"/>
<line x1="442.40" y1="435.78" x2="484.10" y2="435.78" stroke="#3a3a3a" stroke-width="1.25"/>
<line x1="442.40" y1="434.08" x2="442.40" y2="437.48" stroke="#222" stroke-width="1.3"/>
<line x1="484.10" y1="434.08" x2="484.10" y2="437.48" stroke="#222" stroke-width="1.3"/>
<circle cx="458.10" cy="435.78" r="1.7" fill="#d0021b"/>
<line x1="433.50" y1="451.20" x2="453.00" y2="451.20" stroke="#3a3a3a" stroke-width="1.25"/>
<line x1="433.50" y1="449.50" x2="433.50" y2="452.90" stroke="#222" stroke-width="1.3"/>
<line x1="453.00" y1="449.50" x2="453.00" y2="452.90" stroke="#222" stroke-width="1.3"/>
<circle cx="441.00" cy="451.20" r="1.7" fill="#d0021b"/>
<line x1="478.80" y1="466.62" x2="500.80" y2="466.62" stroke="#3a3a3a" stroke-width="1.25"/>
<line x1="478.80" y1="464.92" x2="478.80" y2="468.32" stroke="#222" stroke-width="1.3"/>
<line x1="500.80" y1="464.92" x2="500.80" y2="468.32" stroke="#222" stroke-width="1.3"/>
<circle cx="489.20" cy="466.62" r="1.7" fill="#d0021b"/>
</svg>
</body></html>
